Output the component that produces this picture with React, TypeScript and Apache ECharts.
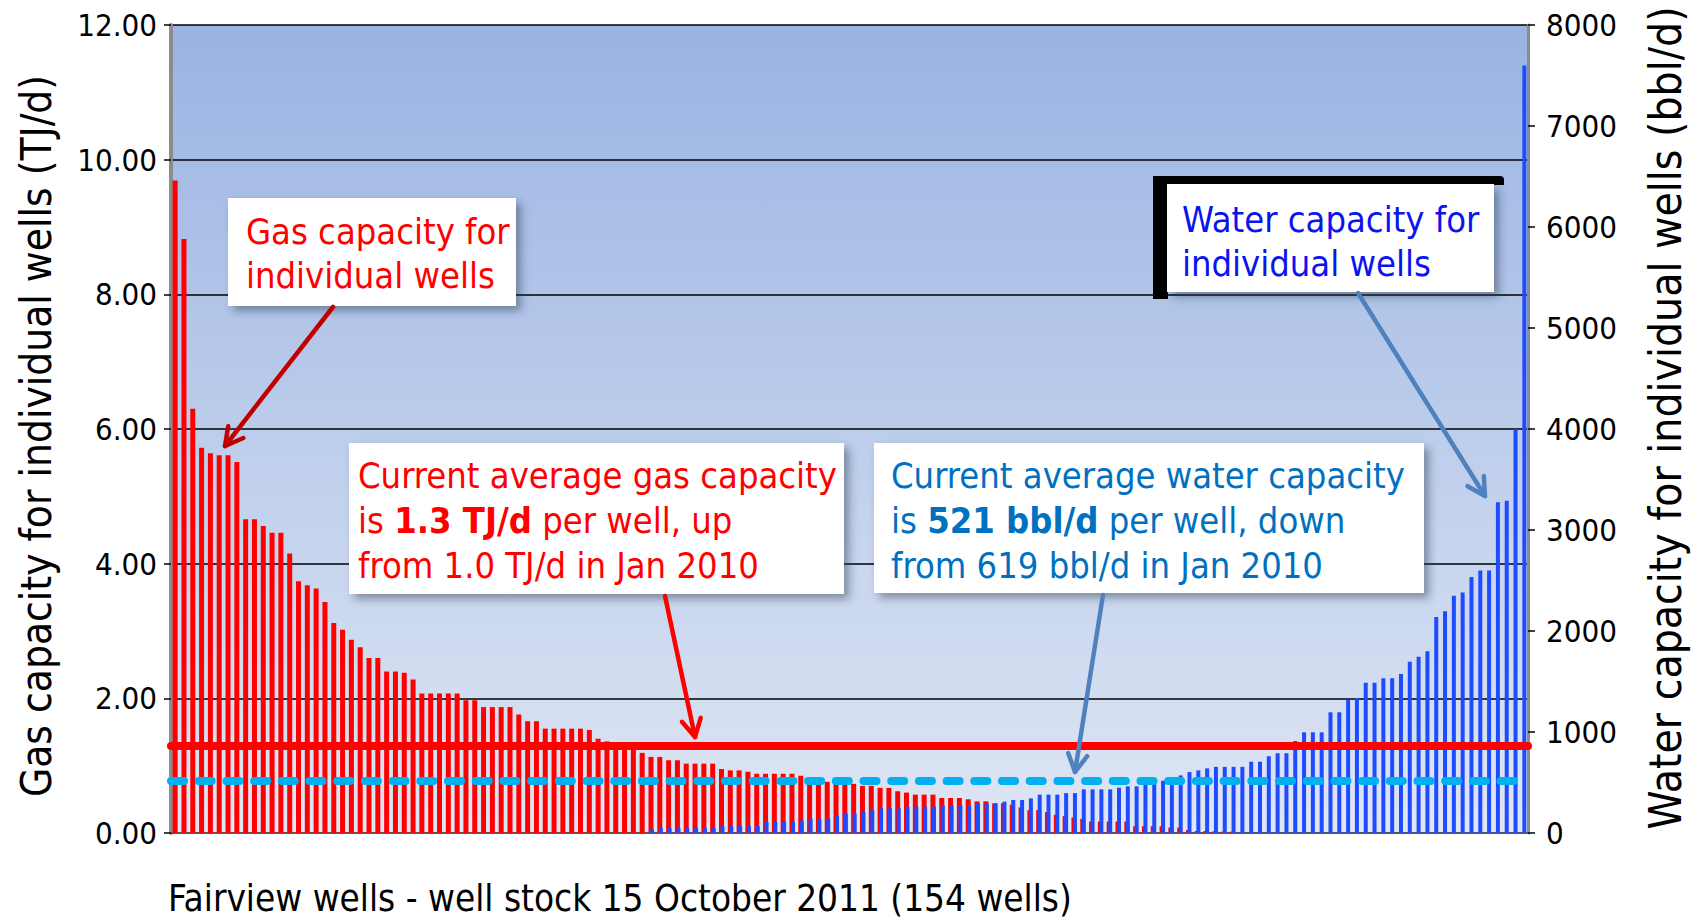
import React, { useEffect, useRef } from "react";
import * as echarts from "echarts";

// ---------- data ----------
const wellCount = 154;
const wells: string[] = Array.from({ length: wellCount }, (_, i) => `Well ${i + 1}`);

// Gas capacity for individual wells (TJ/d), sorted descending
const gasCapacity: number[] = [
  9.69, 8.82, 6.3, 5.72, 5.64, 5.61, 5.61, 5.51, 4.66, 4.66,
  4.56, 4.46, 4.46, 4.15, 3.74, 3.68, 3.63, 3.43, 3.12, 3.02,
  2.87, 2.76, 2.6, 2.6, 2.4, 2.4, 2.38, 2.28, 2.07, 2.07,
  2.07, 2.07, 2.07, 1.97, 1.97, 1.87, 1.87, 1.87, 1.87, 1.76,
  1.66, 1.66, 1.55, 1.55, 1.55, 1.55, 1.55, 1.53, 1.4, 1.36,
  1.34, 1.32, 1.28, 1.19, 1.13, 1.13, 1.08, 1.08, 1.03, 1.03,
  1.03, 1.03, 0.95, 0.93, 0.93, 0.91, 0.88, 0.88, 0.88, 0.88,
  0.88, 0.85, 0.82, 0.79, 0.76, 0.73, 0.73, 0.73, 0.7, 0.7,
  0.67, 0.67, 0.62, 0.6, 0.57, 0.57, 0.57, 0.52, 0.52, 0.52,
  0.5, 0.47, 0.47, 0.44, 0.44, 0.42, 0.38, 0.34, 0.34, 0.31,
  0.27, 0.25, 0.23, 0.21, 0.17, 0.17, 0.17, 0.17, 0.17, 0.1,
  0.1, 0.1, 0.1, 0.08, 0.08, 0.045, 0.03, 0.03, 0.025, 0.02,
  0.02, 0, 0, 0, 0, 0, 0, 0, 0, 0,
  0, 0, 0, 0, 0, 0, 0, 0, 0, 0,
  0, 0, 0, 0, 0, 0, 0, 0, 0, 0,
  0, 0, 0, 0,
];

// Water capacity for individual wells (bbl/d), sorted ascending
const waterCapacity: number[] = [
  0, 0, 0, 0, 0, 0, 0, 0, 0, 0,
  0, 0, 0, 0, 0, 0, 0, 0, 0, 0,
  0, 0, 0, 0, 0, 0, 0, 0, 0, 0,
  0, 0, 0, 0, 0, 0, 0, 0, 0, 0,
  0, 0, 0, 0, 0, 0, 0, 0, 0, 0,
  0, 0, 0, 0, 36, 53, 53, 53, 53, 53,
  53, 53, 69, 69, 69, 69, 69, 109, 109, 109,
  109, 122, 142, 142, 142, 175, 191, 191, 208, 228,
  244, 244, 244, 261, 261, 261, 261, 277, 277, 277,
  277, 294, 294, 294, 310, 327, 327, 343, 380, 380,
  380, 395, 395, 432, 432, 432, 432, 449, 462, 462,
  483, 483, 518, 545, 570, 603, 620, 640, 655, 655,
  655, 655, 706, 706, 760, 790, 790, 911, 997, 997,
  997, 1195, 1195, 1317, 1337, 1488, 1488, 1531, 1531, 1574,
  1696, 1746, 1799, 2139, 2195, 2350, 2380, 2535, 2600, 2600,
  3274, 3290, 3997, 7600,
];

const avgGas = 1.3; // TJ/d per well
const avgWater = 521; // bbl/d per well

const gasAxis = { min: 0, max: 12, interval: 2 };
const waterAxis = { min: 0, max: 8000, interval: 1000 };

const xTitle = "Fairview wells - well stock 15 October 2011 (154 wells)";
const gasTitle = "Gas capacity for individual wells (TJ/d)";
const waterTitle = "Water capacity for individual wells (bbl/d)";

// ---------- styling ----------
const FONT = '"DejaVu Sans Condensed", "DejaVu Sans", sans-serif';

function arrow(x1: number, y1: number, x2: number, y2: number, color: string, w: number) {
  const ang = Math.atan2(y2 - y1, x2 - x1);
  const L = 20;
  const a = 0.5;
  const p1 = [x2 - L * Math.cos(ang - a), y2 - L * Math.sin(ang - a)];
  const p2 = [x2 - L * Math.cos(ang + a), y2 - L * Math.sin(ang + a)];
  return [
    {
      type: "line",
      z: 20,
      silent: true,
      shape: { x1, y1, x2, y2 },
      style: { stroke: color, lineWidth: w, lineCap: "round" },
    },
    {
      type: "polyline",
      z: 20,
      silent: true,
      shape: { points: [p1, [x2, y2], p2] },
      style: { stroke: color, lineWidth: w, lineCap: "round", lineJoin: "round" },
    },
  ];
}

const shadow = {
  shadowBlur: 8,
  shadowOffsetX: 5,
  shadowOffsetY: 5,
  shadowColor: "rgba(40,50,70,0.45)",
};

function txt(x: number, y: number, text: string, fill: string, fontSize = 36, rich?: any) {
  return {
    type: "text",
    z: 12,
    silent: true,
    x,
    y,
    style: {
      text,
      fill,
      fontSize,
      fontFamily: FONT,
      align: "left",
      verticalAlign: "middle",
      rich,
    },
  };
}

export default function App() {
  const ref = useRef<HTMLDivElement>(null);

  useEffect(() => {
    if (!ref.current) return;
    const chart = echarts.init(ref.current, undefined, { renderer: "svg" });

    const redRich = {
      n: { fill: "#FF0000", fontSize: 36, fontFamily: FONT },
      b: { fill: "#FF0000", fontSize: 36, fontFamily: FONT, fontWeight: "bold" },
    };
    const blueRich = {
      n: { fill: "#0070C0", fontSize: 36, fontFamily: FONT },
      b: { fill: "#0070C0", fontSize: 36, fontFamily: FONT, fontWeight: "bold" },
    };

    const option: any = {
      animation: false,
      textStyle: { fontFamily: FONT },
      grid: {
        left: 171,
        right: 169,
        top: 25,
        bottom: 89,
        show: true,
        borderWidth: 0,
        backgroundColor: new echarts.graphic.LinearGradient(0, 0, 0, 1, [
          { offset: 0, color: "#99B3E2" },
          { offset: 0.5, color: "#BCCDEB" },
          { offset: 1, color: "#DFE6F4" },
        ]),
      },
      xAxis: {
        type: "category",
        data: wells,
        boundaryGap: true,
        axisLine: { show: true, lineStyle: { color: "#595959", width: 2 } },
        axisTick: { show: false },
        axisLabel: { show: false },
        splitLine: { show: false },
      },
      yAxis: [
        {
          type: "value",
          position: "left",
          min: gasAxis.min,
          max: gasAxis.max,
          interval: gasAxis.interval,
          axisLine: { show: true, lineStyle: { color: "#8C8C8C", width: 4 } },
          axisTick: { show: true, length: 7, lineStyle: { color: "#000", width: 1.5 } },
          axisLabel: {
            color: "#000",
            fontSize: 31,
            fontFamily: FONT,
            margin: 14,
            formatter: (v: number) => v.toFixed(2),
          },
          splitLine: { show: true, lineStyle: { color: "#000", width: 1.5 } },
        },
        {
          type: "value",
          position: "right",
          min: waterAxis.min,
          max: waterAxis.max,
          interval: waterAxis.interval,
          axisLine: { show: true, lineStyle: { color: "#8C8C8C", width: 3 } },
          axisTick: { show: true, length: 7, lineStyle: { color: "#000", width: 1.5 } },
          axisLabel: {
            color: "#000",
            fontSize: 31,
            fontFamily: FONT,
            margin: 18,
            formatter: (v: number) => String(v),
          },
          splitLine: { show: false },
        },
      ],
      series: [
        {
          type: "bar",
          name: "Gas capacity",
          data: gasCapacity,
          yAxisIndex: 0,
          barWidth: 5,
          barGap: "-70%",
          itemStyle: { color: "#FF0000" },
          markLine: {
            silent: true,
            symbol: ["none", "none"],
            label: { show: false },
            lineStyle: { color: "#FF0000", width: 8, type: "solid", cap: "round" },
            data: [{ yAxis: avgGas }],
          },
        },
        {
          type: "bar",
          name: "Water capacity",
          data: waterCapacity,
          yAxisIndex: 1,
          barWidth: 4,
          itemStyle: { color: "#1F4BFF" },
          markLine: {
            silent: true,
            symbol: ["none", "none"],
            label: { show: false },
            lineStyle: { color: "#00B0F0", width: 8, type: [13, 14.7], cap: "round" },
            data: [{ yAxis: avgWater }],
          },
        },
      ],
      graphic: [
        // axis titles
        {
          type: "text",
          x: 168,
          y: 898,
          silent: true,
          style: { text: xTitle, fill: "#000", fontSize: 36.6, fontFamily: FONT, align: "left", verticalAlign: "middle" },
        },
        {
          type: "text",
          x: 36,
          y: 436,
          rotation: Math.PI / 2,
          silent: true,
          style: { text: gasTitle, fill: "#000", fontSize: 42, fontFamily: FONT, align: "center", verticalAlign: "middle" },
        },
        {
          type: "text",
          x: 1665,
          y: 418,
          rotation: Math.PI / 2,
          silent: true,
          style: { text: waterTitle, fill: "#000", fontSize: 44, fontFamily: FONT, align: "center", verticalAlign: "middle" },
        },
        // box 1: gas capacity
        { type: "rect", z: 10, silent: true, shape: { x: 228, y: 198, width: 288, height: 108 }, style: { fill: "#FFFFFF", ...shadow } },
        txt(246, 231, "Gas capacity for", "#FF0000"),
        txt(246, 275, "individual wells", "#FF0000"),
        // box 2: average gas
        { type: "rect", z: 10, silent: true, shape: { x: 349, y: 443, width: 495, height: 151 }, style: { fill: "#FFFFFF", ...shadow } },
        txt(358, 475, "Current average gas capacity", "#FF0000"),
        txt(358, 520, "{n|is }{b|1.3 TJ/d}{n| per well, up}", "#FF0000", 36, redRich),
        txt(358, 565, "from 1.0 TJ/d in Jan 2010", "#FF0000"),
        // box 3: average water
        { type: "rect", z: 10, silent: true, shape: { x: 874, y: 443, width: 550, height: 150 }, style: { fill: "#FFFFFF", ...shadow } },
        txt(891, 475, "Current average water capacity", "#0070C0"),
        txt(891, 520, "{n|is }{b|521 bbl/d}{n| per well, down}", "#0070C0", 36, blueRich),
        txt(891, 565, "from 619 bbl/d in Jan 2010", "#0070C0"),
        // box 4: water capacity (with black frame edge)
        { type: "rect", z: 9, silent: true, shape: { x: 1153, y: 176, width: 351, height: 9, r: [0, 4, 0, 0] }, style: { fill: "#000000" } },
        { type: "rect", z: 9, silent: true, shape: { x: 1153, y: 176, width: 15, height: 123 }, style: { fill: "#000000" } },
        { type: "rect", z: 10, silent: true, shape: { x: 1167, y: 184, width: 327, height: 108 }, style: { fill: "#FFFFFF", ...shadow } },
        txt(1182, 219, "Water capacity for", "#0A14F0"),
        txt(1182, 263, "individual wells", "#0A14F0"),
        // arrows
        ...arrow(333, 307, 225, 446, "#C00000", 4.5),
        ...arrow(665, 596, 695, 737, "#FF0000", 4.5),
        ...arrow(1103, 595, 1075, 772, "#4F81BD", 4.5),
        ...arrow(1358, 293, 1485, 496, "#4F81BD", 4.5),
      ],
    };

    chart.setOption(option);
    return () => chart.dispose();
  }, []);

  return (
    <div
      ref={ref}
      style={{ position: "absolute", left: 0, top: 0, width: 1697, height: 922, background: "#FFFFFF" }}
    />
  );
}
